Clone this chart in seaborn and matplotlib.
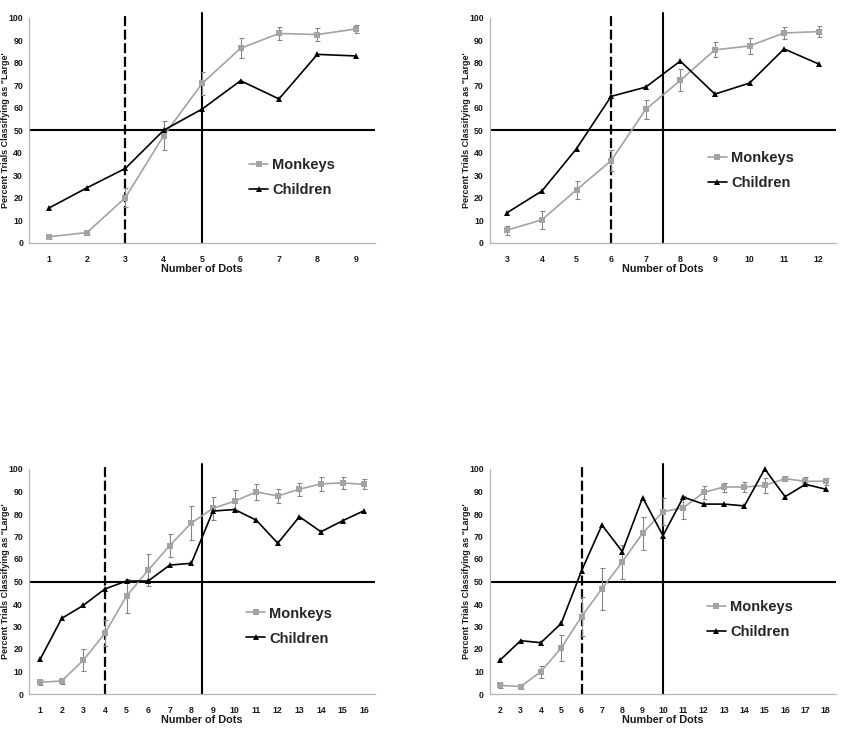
import numpy as np
import pandas as pd
import seaborn as sns
import matplotlib.pyplot as plt

sns.set_style("white")
plt.rcParams['font.family'] = ['Liberation Sans', 'DejaVu Sans']

# ---------------- data ----------------
# Panel A (top left)
a_dots = [1, 2, 3, 4, 5, 6, 7, 8, 9]
a_monkeys = [2.6, 4.5, 20.0, 47.6, 70.8, 86.4, 93.0, 92.5, 95.0]
a_monkeys_err = [1.0, 1.2, 4.2, 6.5, 5.0, 4.5, 3.0, 2.8, 1.8]
a_children = [15.3, 24.4, 33.0, 50.0, 59.4, 72.0, 63.9, 83.7, 83.0]
a_dashed, a_solid = 3, 5

# Panel B (top right)
b_dots = [3, 4, 5, 6, 7, 8, 9, 10, 11, 12]
b_monkeys = [5.6, 10.2, 23.5, 36.5, 59.3, 72.2, 85.8, 87.5, 93.3, 93.9]
b_monkeys_err = [2.0, 4.0, 3.9, 4.6, 4.1, 4.9, 3.3, 3.6, 2.7, 2.5]
b_children = [13.4, 23.0, 41.8, 65.1, 69.2, 80.8, 66.1, 71.0, 86.2, 79.5]
b_dashed, b_solid = 6, 7.5

# Panel C (bottom left)
c_dots = list(range(1, 17))
c_monkeys = [5.2, 5.8, 15.0, 27.0, 43.5, 55.0, 66.0, 76.0, 82.5, 85.7, 89.8,
             88.0, 91.0, 93.4, 93.8, 93.2]
c_monkeys_err = [1.2, 1.5, 4.8, 5.8, 7.5, 7.2, 5.3, 7.6, 5.0, 5.0, 3.7,
                 3.0, 3.0, 3.0, 2.6, 2.2]
c_children = [15.4, 33.6, 39.4, 46.7, 50.2, 50.2, 57.3, 58.1, 81.3, 82.0, 77.3,
              67.0, 78.8, 72.1, 77.0, 81.5]
c_dashed, c_solid = 4, 8.5

# Panel D (bottom right)
d_dots = list(range(2, 19))
d_monkeys = [3.8, 3.3, 9.9, 20.5, 34.4, 46.8, 58.7, 71.5, 81.0, 82.8, 89.6,
             92.0, 92.0, 92.7, 95.7, 94.5, 94.6]
d_monkeys_err = [1.3, 1.0, 2.7, 5.8, 8.5, 9.3, 7.6, 7.3, 6.0, 5.2, 2.8,
                 2.0, 2.2, 3.5, 1.0, 1.9, 1.6]
d_children = [15.1, 23.7, 22.8, 31.4, 54.8, 75.1, 63.3, 87.3, 70.4, 87.5, 84.4,
              84.4, 83.6, 100.0, 87.7, 93.2, 91.0]
d_dashed, d_solid = 6, 10

series_names = ["Monkeys", "Children"]
x_label = "Number of Dots"
y_label = 'Percent Trials Classifying as "Large\''

panels = [
    (a_dots, a_monkeys, a_monkeys_err, a_children, a_dashed, a_solid),
    (b_dots, b_monkeys, b_monkeys_err, b_children, b_dashed, b_solid),
    (c_dots, c_monkeys, c_monkeys_err, c_children, c_dashed, c_solid),
    (d_dots, d_monkeys, d_monkeys_err, d_children, d_dashed, d_solid),
]

# ---------------- layout ----------------
W, H = 861, 735
fig = plt.figure(figsize=(W / 100, H / 100), dpi=100)

ax_rects = [
    (29.3, 17.7, 375.0, 242.7),
    (490.0, 17.9, 836.0, 242.7),
    (29.3, 469.0, 375.0, 694.0),
    (490.0, 469.0, 836.0, 694.0),
]
legend_anchor = [(0.636, 0.289), (0.630, 0.320), (0.627, 0.302), (0.626, 0.330)]

GRAY = "#a3a3a3"
ERRGRAY = "#858585"
SPINE = "#b3b3b3"
TXT = "#1a1a1a"

for (dots, mk, mk_err, ch, dash_x, solid_x), (x0, y0, x1, y1), anc in zip(panels, ax_rects, legend_anchor):
    ax = fig.add_axes([x0 / W, 1 - y1 / H, (x1 - x0) / W, (y1 - y0) / H])
    df = pd.DataFrame({
        "dots": list(dots) * 2,
        "pct": list(mk) + list(ch),
        "group": [series_names[0]] * len(dots) + [series_names[1]] * len(dots),
    })

    # reference lines
    ax.axhline(50, color="black", lw=1.5, zorder=1)
    ax.plot([dash_x, dash_x], [0, 102.3], color="black", lw=1.6,
            dashes=(4.5, 1.6), clip_on=False, zorder=1)
    ax.plot([solid_x, solid_x], [0, 102.3], color="black", lw=1.5,
            clip_on=False, zorder=1)

    # error bars for monkeys
    ax.errorbar(dots, mk, yerr=mk_err, fmt="none", ecolor=ERRGRAY,
                elinewidth=0.8, capsize=1.8, capthick=0.8, zorder=2, clip_on=False)

    sns.lineplot(data=df, x="dots", y="pct", hue="group", style="group",
                 hue_order=series_names, style_order=series_names,
                 palette={series_names[0]: GRAY, series_names[1]: "black"},
                 markers={series_names[0]: "s", series_names[1]: "^"},
                 dashes=False, markersize=5, markeredgewidth=0,
                 linewidth=1.2, ax=ax, zorder=3, clip_on=False)

    ax.set_xlim(min(dots) - 0.5, max(dots) + 0.5)
    ax.set_ylim(0, 100)
    ax.set_xticks(np.arange(min(dots) - 0.5, max(dots) + 1, 1.0), minor=True)
    ax.set_xticks(dots)
    ax.set_yticks(range(0, 101, 10))
    ax.tick_params(axis="x", which="major", length=0, pad=8.5,
                   labelsize=6.3, labelcolor=TXT)
    ax.tick_params(axis="x", which="minor", length=3, width=0.8,
                   color=SPINE, direction="out")
    ax.tick_params(axis="y", which="major", length=2.5, width=0.8,
                   color=SPINE, pad=2, labelsize=6.3, labelcolor=TXT)
    for lab in ax.get_xticklabels() + ax.get_yticklabels():
        lab.set_fontweight("bold")

    for side in ("top", "right"):
        ax.spines[side].set_visible(False)
    for side in ("left", "bottom"):
        ax.spines[side].set_color(SPINE)
        ax.spines[side].set_linewidth(0.9)

    ax.set_xlabel(x_label, fontsize=7.8, fontweight="bold", labelpad=0, color=TXT)
    ax.set_ylabel(y_label, fontsize=6.5, fontweight="bold", color=TXT)
    ax.yaxis.set_label_coords(-0.056, 0.5)
    ax.grid(False)

    handles, labels = ax.get_legend_handles_labels()
    ax.legend(handles, labels, loc="center left", bbox_to_anchor=anc,
              frameon=False, borderpad=0, borderaxespad=0,
              handlelength=1.3, handletextpad=0.3, labelspacing=0.75,
              prop={"size": 10.5, "weight": "bold"}, markerscale=0.85)

fig.savefig("out.png", dpi=100)
